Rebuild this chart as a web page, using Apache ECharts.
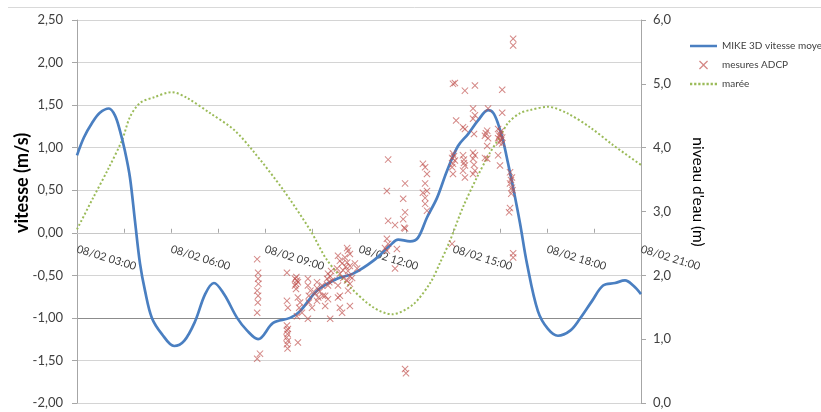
<!DOCTYPE html>
<html>
<head>
<meta charset="utf-8">
<script src="https://cdn.jsdelivr.net/npm/echarts@6/dist/echarts.min.js"></script>
<style>html,body{margin:0;padding:0;background:#fff}#c{width:821px;height:412px}</style>
</head>
<body>
<div id="c"></div>
<script>
// ---- data (hours on 08/02, speeds in m/s, water level in m) ----
const timeTickLabels = ['08/02 03:00','08/02 06:00','08/02 09:00','08/02 12:00','08/02 15:00','08/02 18:00','08/02 21:00'];
const speedTicks = [-2,-1.5,-1,-0.5,0,0.5,1,1.5,2,2.5];
const levelTicks = [0,1,2,3,4,5,6];

const mikeTime = [3.00,3.22,3.48,3.73,4.02,4.21,4.37,4.53,4.69,4.85,5.01,5.17,5.39,5.71,6.10,6.42,6.77,7.09,7.37,7.69,8.11,8.43,8.78,9.26,9.80,10.12,10.66,11.30,11.81,12.45,12.99,13.25,13.63,13.88,14.17,14.49,14.81,15.16,15.48,15.80,16.12,16.28,16.44,16.60,16.76,16.92,17.14,17.36,17.71,18.03,18.35,18.74,19.05,19.44,19.79,20.17,20.49,20.75,21.00];
const mikeSpeed = [0.91,1.12,1.29,1.41,1.46,1.38,1.20,0.96,0.65,0.14,-0.36,-0.68,-1.00,-1.19,-1.33,-1.27,-1.04,-0.72,-0.59,-0.72,-1.00,-1.15,-1.25,-1.06,-1.00,-0.92,-0.68,-0.54,-0.48,-0.33,-0.15,-0.08,-0.10,-0.06,0.18,0.41,0.73,1.02,1.16,1.32,1.44,1.41,1.28,1.08,0.81,0.53,0.11,-0.36,-0.92,-1.13,-1.21,-1.15,-1.01,-0.80,-0.62,-0.59,-0.56,-0.62,-0.72];

const tideTime = [3.00,3.50,4.00,4.44,4.69,5.01,5.46,6.03,6.51,7.25,8.01,8.65,9.58,10.44,10.98,11.71,12.45,13.05,13.72,14.27,14.59,14.91,15.32,15.77,16.18,16.50,16.76,17.14,17.46,18.03,18.64,19.37,20.11,21.00];
const tideLevel = [2.72,3.20,3.67,4.12,4.48,4.70,4.79,4.87,4.78,4.54,4.28,3.93,3.34,2.71,2.24,1.82,1.50,1.39,1.54,1.88,2.20,2.55,3.07,3.54,3.92,4.17,4.39,4.54,4.59,4.64,4.54,4.32,4.04,3.73];

const adcpTime = [
 8.75,8.78,8.78,8.79,8.75,8.78,8.77,8.75,8.84,8.75,
 9.70,9.70,9.73,9.70,9.73,9.70,9.72,9.69,9.73,9.70,9.72,10.05,
 9.96,10.02,9.99,10.05,9.96,10.00,10.05,10.12,10.09,10.18,10.02,9.99,
 10.37,10.37,10.40,10.40,10.37,10.50,10.45,
 10.66,10.82,10.66,10.60,10.85,10.66,10.92,10.75,10.70,
 11.01,11.08,10.98,11.14,11.01,10.92,11.01,11.08,11.05,11.11,
 11.33,11.39,11.46,11.30,11.49,11.39,11.62,11.65,11.71,11.55,11.62,11.71,11.65,11.71,11.62,11.71,11.39,11.33,11.39,11.46,11.87,11.94,11.71,11.78,11.65,11.33,11.50,11.58,
 12.93,12.89,13.47,13.41,13.47,12.93,13.15,13.41,13.44,13.47,12.89,12.93,12.83,12.89,13.21,13.15,13.47,13.50,
 14.04,14.11,14.17,14.11,14.17,14.04,14.11,14.11,14.17,
 15.00,15.06,15.10,15.00,14.97,15.06,15.00,14.97,15.00,14.97,15.03,
 15.38,15.32,15.38,15.32,15.35,15.38,15.32,15.38,15.35,
 15.70,15.64,15.70,15.64,15.67,15.64,15.70,15.64,15.70,15.64,15.67,
 16.12,16.09,16.02,16.12,16.09,16.02,16.09,16.05,
 16.57,16.57,16.44,16.50,16.57,16.44,16.47,16.57,16.44,16.50,16.52,16.48,16.54,
 16.92,16.92,16.82,16.88,16.82,16.88,16.86,16.82,16.79,16.92,16.92,16.85,16.90
];
const adcpSpeed = [
 -0.31,-0.47,-0.54,-0.60,-0.68,-0.74,-0.82,-0.94,-1.42,-1.48,
 -0.47,-0.80,-0.88,-1.09,-1.13,-1.15,-1.19,-1.23,-1.27,-1.31,-1.36,-1.29,
 -0.54,-0.56,-0.60,-0.58,-0.62,-0.52,-0.76,-0.82,-0.88,-0.94,-0.98,-0.66,
 -0.54,-0.62,-0.74,-0.82,-1.01,-0.88,-0.68,
 -0.65,-0.62,-0.58,-0.71,-0.74,-0.80,-0.86,-0.69,-0.76,
 -0.48,-0.51,-0.54,-0.56,-0.62,-0.74,-0.78,-1.01,-0.58,-0.45,
 -0.27,-0.33,-0.36,-0.42,-0.44,-0.48,-0.18,-0.21,-0.25,-0.29,-0.35,-0.39,-0.45,-0.51,-0.56,-0.60,-0.74,-0.62,-0.88,-0.94,-0.36,-0.42,-0.86,-0.53,-0.68,-0.76,-0.53,-0.40,
 0.86,0.49,0.58,0.40,0.24,0.14,0.09,0.16,0.06,0.05,-0.07,-0.13,-0.18,-0.21,-0.19,-0.42,-1.60,-1.65,
 0.81,0.77,0.69,0.58,0.49,0.47,0.41,0.34,0.26,
 1.75,1.76,1.32,0.93,0.88,0.85,0.81,0.77,0.69,-0.13,0.90,
 1.67,1.24,1.22,0.91,0.82,0.79,0.73,0.65,0.86,
 1.73,1.46,1.38,1.34,1.16,0.94,0.91,0.87,0.73,0.69,0.80,
 1.46,1.20,1.14,1.11,1.02,0.88,0.87,1.17,
 1.68,1.41,1.22,1.16,1.12,1.11,1.06,1.05,0.91,0.79,1.19,1.14,1.09,
 2.28,2.20,0.71,0.65,0.58,0.53,0.46,0.29,0.24,-0.24,-0.29,0.62,0.50
];

const seriesNames = ['MIKE 3D vitesse moyenne','mesures ADCP','marée'];

// ---- build ----
const zip = (a, b) => a.map((v, i) => [v, b[i]]);
const comma = (v, d) => v.toFixed(d).replace('.', ',');
const xMarker = 'path://M0,1L1,0L5,4L9,0L10,1L6,5L10,9L9,10L5,6L1,10L0,9L4,5Z';
const solidIcon = 'path://M0,0H28V2.6H0Z';
let dotted = '';
for (let i = 0; i < 7; i++) dotted += 'M' + (i * 4) + ',0h2.2v2.2h-2.2Z';
const dottedIcon = 'path://' + dotted;
const FONT = 'Lato, "Open Sans", sans-serif';
const gridColors = speedTicks.map(v => v === -1 ? '#8c8c8c' : '#d4d4d4');

const GRID_TOP = 20, GRID_BOTTOM = 9, H = 412;
const plotH = H - GRID_TOP - GRID_BOTTOM;
const sMin = speedTicks[0], sMax = speedTicks[speedTicks.length - 1];
// distance (px) from the grid bottom up to the zero speed line
const zeroOffset = plotH * (0 - sMin) / (sMax - sMin);

const chart = echarts.init(document.getElementById('c'));
chart.setOption({
  animation: false,
  backgroundColor: '#fff',
  textStyle: { fontFamily: FONT },
  grid: { left: 77, right: 180, top: GRID_TOP, bottom: GRID_BOTTOM, containLabel: false, outerBoundsMode: 'none' },
  legend: {
    orient: 'vertical', left: 685, top: 36, itemWidth: 27, itemHeight: 9, itemGap: 9,
    symbolKeepAspect: true,
    textStyle: { fontSize: 10, color: '#404040', fontFamily: FONT },
    data: [
      { name: seriesNames[0], icon: solidIcon },
      { name: seriesNames[1], icon: xMarker },
      { name: seriesNames[2], icon: dottedIcon }
    ]
  },
  xAxis: {
    type: 'value', min: 3, max: 21, interval: 1.5, position: 'bottom', offset: -zeroOffset,
    axisLine: { onZero: false, lineStyle: { color: '#c8c8c8', width: 1 } },
    axisTick: { show: true, inside: true, length: 4, lineStyle: { color: '#a6a6a6' } },
    axisLabel: {
      rotate: -17, margin: 16, fontSize: 11, color: '#404040', fontFamily: FONT,
      showMinLabel: true, showMaxLabel: true, hideOverlap: false,
      formatter: v => {
        const k = (v - 3) / 3;
        return Math.abs(k - Math.round(k)) < 1e-6 ? (timeTickLabels[Math.round(k)] || '') : '';
      }
    },
    splitLine: { show: false }
  },
  yAxis: [
    {
      type: 'value', min: sMin, max: sMax, interval: 0.5,
      axisLine: { show: true, lineStyle: { color: '#a6a6a6' } },
      axisTick: { show: true, length: 5, lineStyle: { color: '#a6a6a6' } },
      axisLabel: { fontSize: 13, color: '#404040', margin: 14, fontFamily: FONT, formatter: v => comma(v, 2) },
      splitLine: { show: true, lineStyle: { color: gridColors, width: 1 } }
    },
    {
      type: 'value', min: levelTicks[0], max: levelTicks[levelTicks.length - 1], interval: 1, position: 'right',
      axisLine: { show: true, lineStyle: { color: '#a6a6a6' } },
      axisTick: { show: true, length: 5, lineStyle: { color: '#a6a6a6' } },
      axisLabel: { fontSize: 13, color: '#404040', margin: 12, fontFamily: FONT, formatter: v => comma(v, 1) },
      splitLine: { show: false }
    }
  ],
  series: [
    {
      name: seriesNames[0], type: 'line', yAxisIndex: 0, data: zip(mikeTime, mikeSpeed),
      showSymbol: false, symbol: 'none', smooth: 0.35,
      lineStyle: { color: '#4a7fc1', width: 2.7 }, itemStyle: { color: '#4a7fc1' }, z: 3
    },
    {
      name: seriesNames[1], type: 'scatter', yAxisIndex: 0, data: zip(adcpTime, adcpSpeed),
      symbol: xMarker, symbolSize: 7, symbolKeepAspect: true,
      itemStyle: { color: 'rgba(192,80,77,0.85)' }, z: 4
    },
    {
      name: seriesNames[2], type: 'line', yAxisIndex: 1, data: zip(tideTime, tideLevel),
      showSymbol: false, symbol: 'none', smooth: 0.3,
      lineStyle: { color: '#9bbb59', width: 2, type: [2, 2.2], cap: 'butt' }, itemStyle: { color: '#9bbb59' }, z: 2
    }
  ],
  graphic: [
    { type: 'line', shape: { x1: 8, y1: 7.5, x2: 821, y2: 7.5 }, style: { stroke: '#d9d9d9', lineWidth: 1 }, silent: true },
    { type: 'text', x: 22, y: 183, rotation: Math.PI / 2,
      style: { text: 'vitesse (m/s)', font: 'bold 18px ' + FONT, fill: '#000', align: 'center', verticalAlign: 'middle' } },
    { type: 'text', x: 698, y: 192, rotation: -Math.PI / 2,
      style: { text: "niveau d'eau (m)", font: '15.5px ' + FONT, fill: '#000', align: 'center', verticalAlign: 'middle' } }
  ]
});
</script>
</body>
</html>
